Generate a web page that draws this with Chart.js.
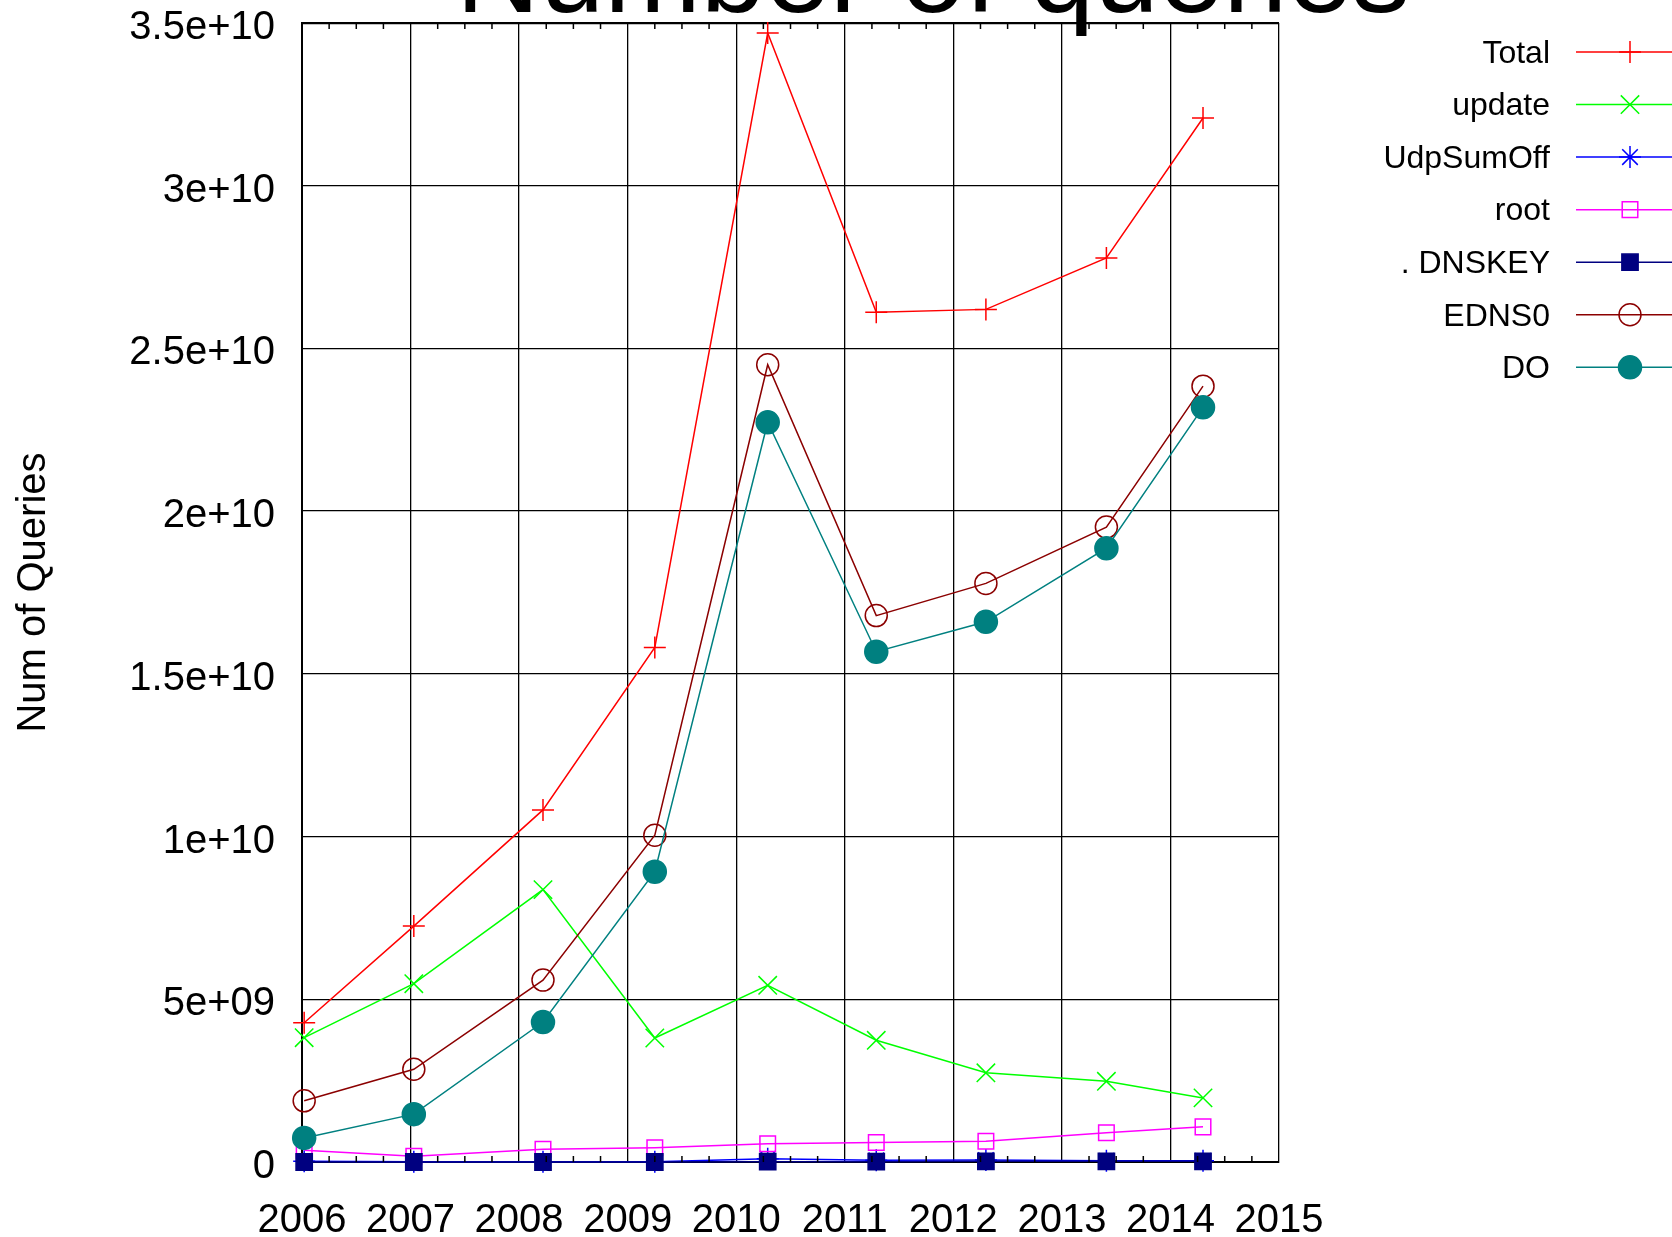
<!DOCTYPE html>
<html lang="en">
<head>
<meta charset="UTF-8">
<title>Number of queries</title>
<script src="https://cdn.jsdelivr.net/npm/chart.js@4.4.1/dist/chart.umd.min.js"></script>
<style>
  html, body { margin: 0; padding: 0; background: #fff; overflow: hidden; }
  #wrap { position: relative; width: 1672px; height: 1237px; }
</style>
</head>
<body>
<div id="wrap">
  <canvas id="queries" width="1672" height="1237"></canvas>
</div>

<script>
  // sample dates (decimal years) and query counts per series
  var sampleDates = [2006.02, 2007.03, 2008.22, 2009.25, 2010.29, 2011.29, 2012.30, 2013.41, 2014.30];

  var totalQueries   = [4.28e9, 7.25e9, 1.082e10, 1.581e10, 3.469e10, 2.611e10, 2.62e10, 2.778e10, 3.208e10];
  var updateQueries  = [3.82e9, 5.48e9, 8.37e9, 3.81e9, 5.43e9, 3.74e9, 2.74e9, 2.48e9, 1.97e9];
  var udpSumOff      = [2e7, 1e7, 1e7, 1e7, 1.0e8, 5e7, 6e7, 4e7, 4e7];
  var rootQueries    = [3.6e8, 1.75e8, 3.9e8, 4.4e8, 5.6e8, 6.0e8, 6.4e8, 9.0e8, 1.08e9];
  var dnskeyQueries  = [0, 0, 0, 0, 1e7, 1e7, 2e7, 2e7, 2e7];
  var edns0Queries   = [1.88e9, 2.85e9, 5.59e9, 1.004e10, 2.45e10, 1.679e10, 1.778e10, 1.951e10, 2.384e10];
  var doQueries      = [7.4e8, 1.47e9, 4.30e9, 8.92e9, 2.273e10, 1.568e10, 1.66e10, 1.886e10, 2.319e10];

  var xTickLabels = ['2006', '2007', '2008', '2009', '2010', '2011', '2012', '2013', '2014', '2015'];
  var yTickLabels = ['0', '5e+09', '1e+10', '1.5e+10', '2e+10', '2.5e+10', '3e+10', '3.5e+10'];

  var titleText = 'Number of queries';
  var fontFamily = "'Liberation Sans', Arial, Helvetica, sans-serif";

  function points(values) {
    return values.map(function (v, i) {
      return { x: sampleDates[i], y: v };
    });
  }

  // one entry per plotted series, gnuplot style
  function series(label, values, colour, style, filled, radius) {
    return {
      label: label,
      data: points(values),
      borderColor: colour,
      borderWidth: 1.5,
      pointStyle: style,
      pointRadius: radius,
      pointBorderColor: colour,
      pointBorderWidth: 1.5,
      pointBackgroundColor: filled ? colour : 'rgba(0,0,0,0)',
      fill: false,
      clip: false,
      tension: 0
    };
  }

  var datasets = [
    series('Total',     totalQueries,  '#ff0000', 'cross',    false, 11),
    series('update',    updateQueries, '#00ff00', 'crossRot', false, 13),
    series('UdpSumOff', udpSumOff,     '#0000ff', 'star',     false, 11),
    series('root',      rootQueries,   '#ff00ff', 'rect',     false, 11),
    series('. DNSKEY',  dnskeyQueries, '#000080', 'rect',     true,  11.5),
    series('EDNS0',     edns0Queries,  '#8b0000', 'circle',   false, 11),
    series('DO',        doQueries,     '#008080', 'circle',   true,  11.5)
  ];
  // later series are painted over earlier ones
  datasets.forEach(function (d, i) { d.order = datasets.length - i; });

  // title, inward minor ticks on the x axis and the key on the right
  var extras = {
    id: 'extras',
    afterDraw: function (chart) {
      var ctx = chart.ctx;
      var area = chart.chartArea;
      var xs = chart.scales.x;

      ctx.save();
      ctx.strokeStyle = '#000';
      ctx.lineWidth = 1.5;
      for (var v = 2006.25; v < 2015; v += 0.25) {
        if (Math.abs(v - Math.round(v)) < 1e-6) continue;
        var px = xs.getPixelForValue(v);
        ctx.beginPath();
        ctx.moveTo(px, area.bottom);
        ctx.lineTo(px, area.bottom - 6);
        ctx.moveTo(px, area.top);
        ctx.lineTo(px, area.top + 6);
        ctx.stroke();
      }

      ctx.fillStyle = '#000';
      ctx.font = '116px ' + fontFamily;
      ctx.textAlign = 'center';
      ctx.textBaseline = 'alphabetic';
      ctx.fillText(titleText, 933, 12);

      ctx.font = '32px ' + fontFamily;
      ctx.textAlign = 'right';
      ctx.textBaseline = 'middle';
      chart.data.datasets.forEach(function (d, i) {
        var y = 52 + i * 52.55;
        ctx.fillStyle = '#000';
        ctx.fillText(d.label, 1550, y + 2);
        ctx.strokeStyle = d.borderColor;
        ctx.lineWidth = d.borderWidth;
        ctx.beginPath();
        ctx.moveTo(1576, y);
        ctx.lineTo(1672, y);
        ctx.stroke();
        ctx.fillStyle = d.pointBackgroundColor;
        ctx.lineWidth = d.pointBorderWidth;
        Chart.helpers.drawPoint(ctx, {
          pointStyle: d.pointStyle,
          radius: d.pointRadius,
          rotation: 0,
          borderWidth: d.pointBorderWidth
        }, 1630, y);
      });
      ctx.restore();
    }
  };

  var ctxQueries = document.getElementById('queries').getContext('2d');

  var queriesChart = new Chart(ctxQueries, {
    type: 'line',
    data: { datasets: datasets },
    options: {
      responsive: false,
      animation: false,
      devicePixelRatio: 1,
      layout: { padding: { left: 0, top: 23, right: 393, bottom: 0 } },
      plugins: {
        legend: { display: false },
        tooltip: { enabled: false },
        title: { display: false }
      },
      scales: {
        x: {
          type: 'linear',
          min: 2006,
          max: 2015,
          ticks: {
            stepSize: 1,
            color: '#000',
            padding: 35,
            maxRotation: 0,
            autoSkip: false,
            font: { family: fontFamily, size: 40 },
            callback: function (v, i) { return xTickLabels[i]; }
          },
          grid: { color: '#000', lineWidth: 1.3, drawTicks: false },
          border: { color: '#000', width: 2 },
          afterFit: function (scale) {
            scale.height = 75;
            scale.paddingLeft = 0;
            scale.paddingRight = 0;
          }
        },
        y: {
          min: 0,
          max: 3.5e10,
          ticks: {
            stepSize: 5e9,
            color: '#000',
            padding: 27,
            labelOffset: 5,
            font: { family: fontFamily, size: 40 },
            callback: function (v, i) { return yTickLabels[i]; }
          },
          grid: {
            color: '#000',
            drawTicks: false,
            lineWidth: function (c) { return c.index === yTickLabels.length - 1 ? 2.2 : 1.3; }
          },
          border: { color: '#000', width: 2 },
          title: {
            display: true,
            text: 'Num of Queries',
            color: '#000',
            padding: { top: 10, bottom: 0 },
            font: { family: fontFamily, size: 40 }
          },
          afterFit: function (scale) {
            scale.width = 302;
            scale.paddingTop = 0;
            scale.paddingBottom = 0;
          }
        }
      }
    },
    plugins: [extras]
  });
</script>
</body>
</html>
